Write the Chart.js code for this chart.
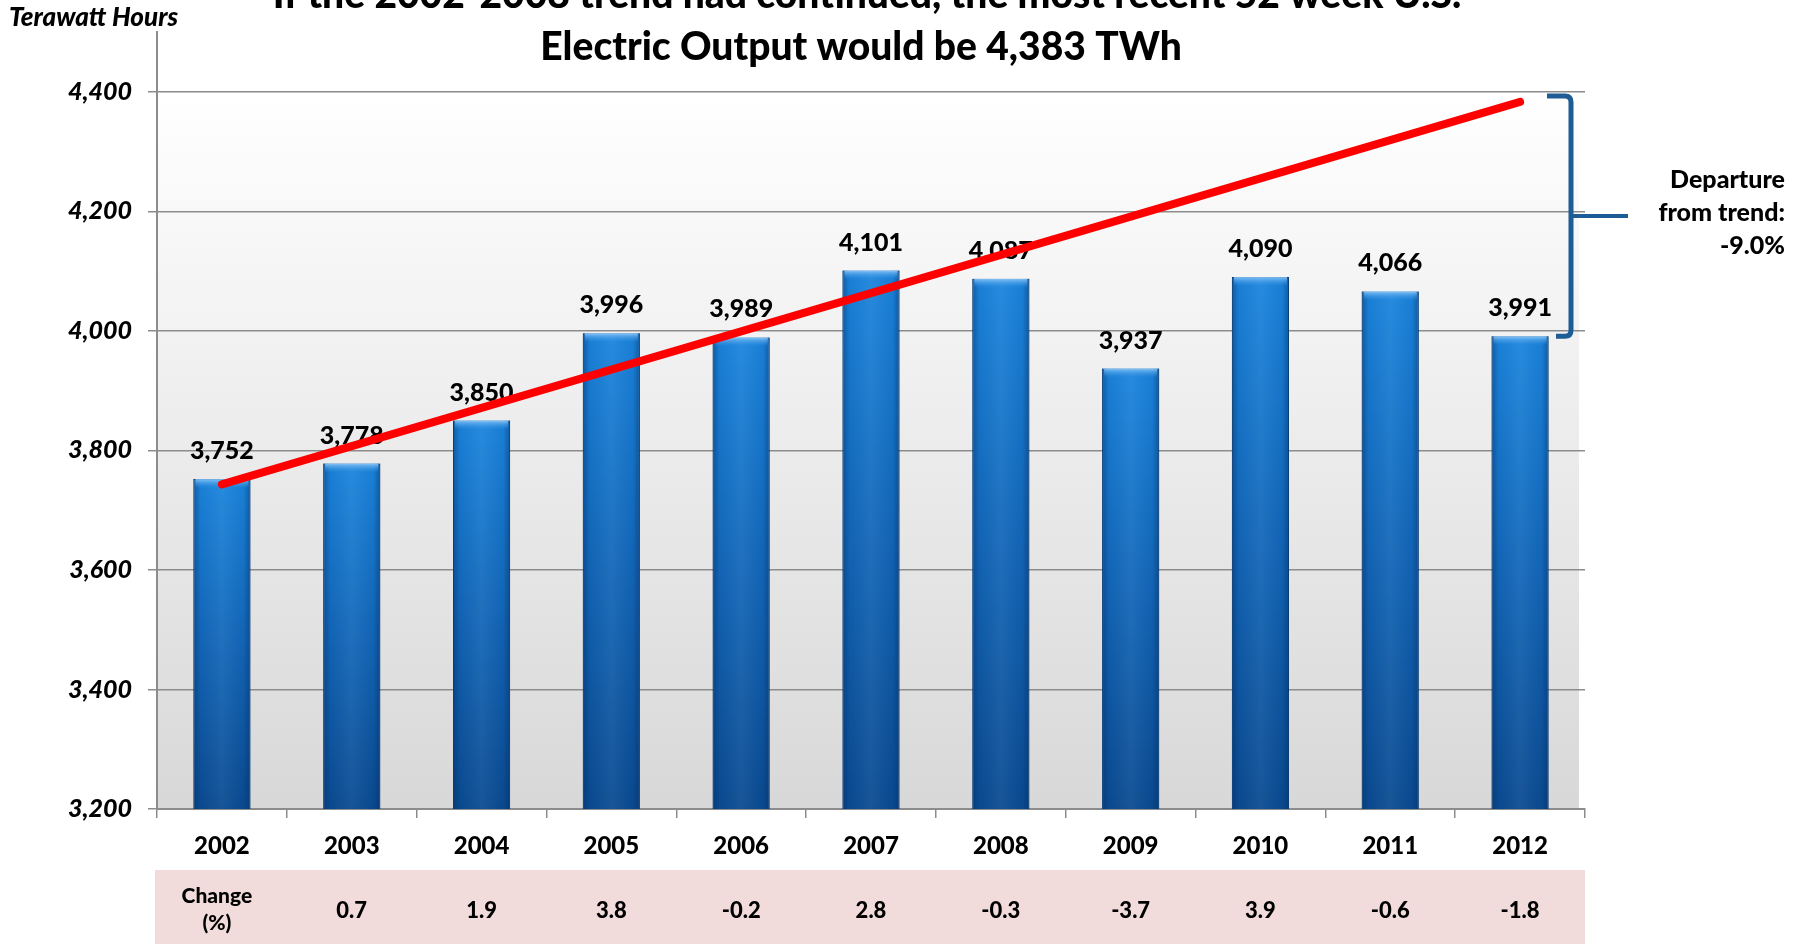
<!DOCTYPE html>
<html>
<head>
<meta charset="utf-8">
<script src="https://cdn.jsdelivr.net/npm/chart.js@4/dist/chart.umd.min.js"></script>
<style>
  html, body { margin: 0; padding: 0; background: #fff; }
  #wrap { width: 1796px; height: 944px; position: relative; }
</style>
</head>
<body>
<div id="wrap"><canvas id="output"></canvas></div>
<script>
// Data
var years = ['2002', '2003', '2004', '2005', '2006', '2007', '2008', '2009', '2010', '2011', '2012'];
var output = [3752, 3778, 3850, 3996, 3989, 4101, 4087, 3937, 4090, 4066, 3991];
var trend = [3743, null, null, null, null, null, null, null, null, null, 4383];
var changePct = ['Change\n(%)', '0.7', '1.9', '3.8', '-0.2', '2.8', '-0.3', '-3.7', '3.9', '-0.6', '-1.8'];
var yTicks = [3200, 3400, 3600, 3800, 4000, 4200, 4400];
var titleLines = ['If the 2002-2008 trend had continued, the most recent 52 week U.S.', 'Electric Output would be 4,383 TWh'];
var unitLabel = 'Terawatt Hours';
var departure = ['Departure', 'from trend:', '-9.0%'];

var FONT = 'Lato, "Open Sans", sans-serif';
var W = '900';

function fmt(v) {
    return v.toLocaleString('en-US');
}

// Grey fade behind the plot
var plotBackground = {
    id: 'plotBackground',
    beforeDraw: function(chart) {
        var a = chart.chartArea, ctx = chart.ctx;
        var top = chart.scales.y.getPixelForValue(4400);
        var g = ctx.createLinearGradient(0, top, 0, a.bottom);
        g.addColorStop(0, '#ffffff');
        g.addColorStop(1, '#d8d8d8');
        ctx.save();
        ctx.fillStyle = g;
        ctx.fillRect(a.left, top, a.right - a.left - 6, a.bottom - top);
        ctx.restore();
    }
};

// Bar shading + value labels, drawn before the trend line
var barDecor = {
    id: 'barDecor',
    afterDatasetDraw: function(chart, args) {
        if (args.index !== 0) return;
        var ctx = chart.ctx, a = chart.chartArea;
        ctx.save();
        args.meta.data.forEach(function(bar, i) {
            var l = bar.x - bar.width / 2, w = bar.width, t = bar.y;
            var h = Math.min(bar.base, a.bottom) - t;
            // darker edges across the bar
            var hg = ctx.createLinearGradient(l, 0, l + w, 0);
            hg.addColorStop(0, 'rgba(5,40,90,0.45)');
            hg.addColorStop(0.12, 'rgba(5,40,90,0.05)');
            hg.addColorStop(0.5, 'rgba(255,255,255,0.06)');
            hg.addColorStop(0.88, 'rgba(5,40,90,0.05)');
            hg.addColorStop(1, 'rgba(5,40,90,0.45)');
            ctx.fillStyle = hg;
            ctx.fillRect(l, t, w, h);
            // light bevel on top
            var bg = ctx.createLinearGradient(0, t, 0, t + 9);
            bg.addColorStop(0, 'rgba(140,200,250,0.9)');
            bg.addColorStop(1, 'rgba(60,150,230,0)');
            ctx.fillStyle = bg;
            ctx.fillRect(l + 2, t, w - 4, 9);
            // value label
            ctx.fillStyle = '#000';
            ctx.font = W + ' 25px ' + FONT;
            ctx.textAlign = 'center';
            ctx.textBaseline = 'middle';
            ctx.fillText(fmt(output[i]), bar.x, t - 28);
        });
        ctx.restore();
    }
};

// Title, unit label, change row and the departure brace
var annotations = {
    id: 'annotations',
    afterDraw: function(chart) {
        var ctx = chart.ctx, a = chart.chartArea;
        var x = chart.scales.x, y = chart.scales.y;
        ctx.save();

        ctx.fillStyle = '#000';
        ctx.textAlign = 'center';
        ctx.textBaseline = 'alphabetic';
        ctx.font = W + ' 39px ' + FONT;
        ctx.fillText(titleLines[0], 867, 8);
        ctx.fillText(titleLines[1], 861, 60);

        ctx.textAlign = 'left';
        ctx.font = 'italic ' + W + ' 26px ' + FONT;
        ctx.fillText(unitLabel, 9, 26);

        // change row
        ctx.fillStyle = '#f2dcdb';
        ctx.fillRect(155, 870, a.right - 155, 944 - 870);
        ctx.fillStyle = '#000';
        ctx.textAlign = 'center';
        ctx.textBaseline = 'middle';
        changePct.forEach(function(c, i) {
            var cx = x.getPixelForValue(i);
            if (c.indexOf('\n') >= 0) {
                ctx.font = W + ' 21px ' + FONT;
                var parts = c.split('\n');
                ctx.fillText(parts[0], cx - 5, 896);
                ctx.fillText(parts[1], cx - 5, 923);
            } else {
                ctx.font = W + ' 22px ' + FONT;
                ctx.fillText(c, cx, 911);
            }
        });

        // brace between trend end and latest value
        var top = y.getPixelForValue(4383) - 6;
        var bot = y.getPixelForValue(output[output.length - 1]);
        var mid = (top + bot) / 2;
        var bx = 1571;
        ctx.strokeStyle = '#1d5c95';
        ctx.lineWidth = 5;
        ctx.lineJoin = 'round';
        ctx.beginPath();
        ctx.moveTo(1547, top);
        ctx.lineTo(bx - 6, top);
        ctx.quadraticCurveTo(bx, top, bx, top + 6);
        ctx.lineTo(bx, bot - 6);
        ctx.quadraticCurveTo(bx, bot, bx - 6, bot);
        ctx.lineTo(1556, bot);
        ctx.stroke();
        ctx.lineWidth = 4;
        ctx.beginPath();
        ctx.moveTo(bx, mid);
        ctx.lineTo(1628, mid);
        ctx.stroke();

        ctx.fillStyle = '#000';
        ctx.textAlign = 'right';
        ctx.font = W + ' 25px ' + FONT;
        departure.forEach(function(s, i) {
            ctx.fillText(s, 1785, 180 + i * 33);
        });
        ctx.restore();
    }
};

var ctx = document.getElementById('output');
var chart = new Chart(ctx, {
    type: 'bar',
    data: {
        labels: years,
        datasets: [
            {
                type: 'bar',
                data: output,
                order: 2,
                barPercentage: 0.44,
                categoryPercentage: 1,
                borderWidth: 1,
                borderColor: '#0b4f8f',
                backgroundColor: function(c) {
                    var ch = c.chart;
                    if (!ch.chartArea || c.raw == null) return '#1570c8';
                    var y = ch.scales.y;
                    var t = y.getPixelForValue(c.raw), b = y.getPixelForValue(3200);
                    var g = ch.ctx.createLinearGradient(0, t, 0, b);
                    g.addColorStop(0, '#1a84dc');
                    g.addColorStop(0.5, '#1266b8');
                    g.addColorStop(1, '#0a4a90');
                    return g;
                }
            },
            {
                type: 'line',
                data: trend,
                order: 1,
                spanGaps: true,
                borderColor: '#ff0000',
                borderWidth: 8,
                borderCapStyle: 'round',
                pointRadius: 0,
                fill: false
            }
        ]
    },
    options: {
        responsive: true,
        maintainAspectRatio: false,
        animation: false,
        layout: { padding: { top: 32, right: 211, bottom: 0, left: 0 } },
        plugins: {
            legend: { display: false },
            tooltip: { enabled: false }
        },
        scales: {
            x: {
                offset: true,
                grid: {
                    offset: true,
                    drawOnChartArea: false,
                    drawTicks: true,
                    tickLength: 9,
                    color: '#8c8c8c',
                    lineWidth: 1.5
                },
                border: { color: '#8c8c8c', width: 2 },
                ticks: {
                    color: '#000',
                    padding: 14,
                    font: { family: FONT, size: 24, weight: W }
                },
                afterFit: function(s) { s.height = 944 - 809; }
            },
            y: {
                min: 3200,
                max: 4500,
                afterBuildTicks: function(s) {
                    s.ticks = yTicks.map(function(v) { return { value: v }; });
                },
                grid: {
                    color: '#8c8c8c',
                    lineWidth: 1.5,
                    tickLength: 9
                },
                border: { color: '#8c8c8c', width: 2 },
                ticks: {
                    color: '#000',
                    padding: 16,
                    font: { family: FONT, size: 25, weight: W, style: 'italic' },
                    callback: function(v) { return fmt(v); }
                },
                afterFit: function(s) { s.width = 157; }
            }
        }
    },
    plugins: [plotBackground, barDecor, annotations]
});
</script>
</body>
</html>
